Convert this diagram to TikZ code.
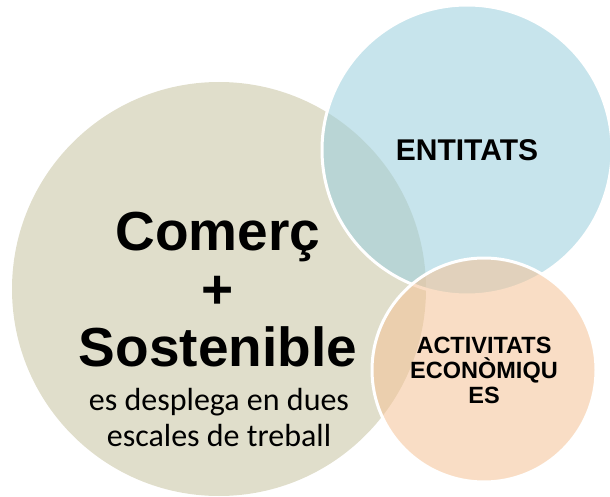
\documentclass[tikz,border=0pt]{standalone}
\usepackage{fontspec}
\setmainfont{Liberation Sans}
\newfontfamily\calibrifont{Carlito}
\usetikzlibrary{positioning}
\definecolor{beige}{RGB}{224,222,203}
\definecolor{skyblue}{RGB}{156,207,221}
\definecolor{peach}{RGB}{245,196,153}
\begin{document}
\begin{tikzpicture}[x=1pt, y=-1pt,
    bubble/.style={circle, inner sep=0pt, draw=white, line width=3pt, fill opacity=0.57, text opacity=1, align=center},
    titletext/.style={align=center, inner sep=0pt, font=\bfseries\fontsize{55}{58}\selectfont},
    subtext/.style={align=center, inner sep=0pt, font=\calibrifont\fontsize{32}{36}\selectfont}]
  \useasboundingbox (0,0) rectangle (610,497);
  % the three circles
  \node[circle, inner sep=0pt, fill=beige, minimum size=414pt] (comerc) at (219,289) {};
  \node[bubble, fill=skyblue, minimum size=290pt, font=\bfseries\fontsize{30}{34}\selectfont] (entitats) at (467,150) {ENTITATS};
  \node[bubble, fill=peach, minimum size=224pt, font=\bfseries\fontsize{23.5}{25}\selectfont] (activitats) at (484,370) {ACTIVITATS\\ECONÒMIQU\\ES};
  % text of the big circle
  \node[titletext, anchor=north] (comerctext) at (218,212) {Comerç\\+\\Sostenible};
  \node[subtext, anchor=north] (escales) at (219,388) {es desplega en dues\\escales de treball};
\end{tikzpicture}
\end{document}
